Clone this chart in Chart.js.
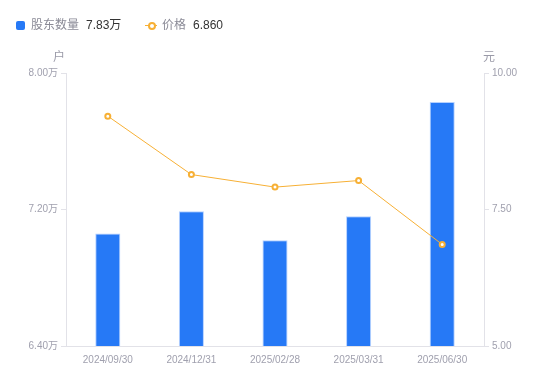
<!DOCTYPE html>
<html>
<head>
<meta charset="utf-8">
<script src="https://cdn.jsdelivr.net/npm/chart.js@4/dist/chart.umd.min.js"></script>
<style>
  html,body{margin:0;padding:0;background:#fff;}
  body{width:550px;height:381px;position:relative;overflow:hidden;font-family:"Liberation Sans","Noto Sans CJK SC",sans-serif;}
  #wrap{position:absolute;left:0;top:0;width:550px;height:381px;}
  .leg{position:absolute;top:17px;font-size:12px;line-height:16px;white-space:nowrap;}
  .leg .name{color:#8a8a96;}
  .leg .val{color:#333;margin-left:7px;}
  .unit{position:absolute;font-size:12px;color:#9a9aa8;line-height:14px;}
</style>
</head>
<body>
<div id="wrap"><canvas id="c" width="550" height="381"></canvas></div>
<div class="leg" style="left:16px;">
  <span style="display:inline-block;width:9px;height:9px;background:#2679F6;border-radius:2px;vertical-align:-1px;margin-right:6px;"></span><span class="name" id="n1"></span><span class="val" id="v1"></span>
</div>
<div class="leg" style="left:145px;">
  <span style="display:inline-block;position:relative;width:12px;height:9px;vertical-align:-1px;margin-right:5px;">
    <span style="position:absolute;left:0;top:4px;width:12px;height:1px;background:#F7B035;"></span>
    <span style="position:absolute;left:2.5px;top:1px;width:4px;height:4px;border:2px solid #F7B035;border-radius:50%;background:#fff;"></span>
  </span><span class="name" id="n2"></span><span class="val" id="v2"></span>
</div>
<div class="unit" id="u1" style="left:53px;top:50px;"></div>
<div class="unit" id="u2" style="left:483px;top:50px;"></div>
<script>
const categories = ['2024/09/30','2024/12/31','2025/02/28','2025/03/31','2025/06/30'];
const holders = [7.06, 7.19, 7.02, 7.16, 7.83];   // 万户
const prices = [9.21, 8.14, 7.91, 8.03, 6.86];    // 元
const holderTicks = [6.40, 7.20, 8.00];
const priceTicks = [5.00, 7.50, 10.00];
const seriesNames = ['股东数量','价格'];
const legendValues = ['7.83万','6.860'];
const unitNames = ['户','元'];

document.getElementById('n1').textContent = seriesNames[0];
document.getElementById('n2').textContent = seriesNames[1];
document.getElementById('v1').textContent = legendValues[0];
document.getElementById('v2').textContent = legendValues[1];
document.getElementById('u1').textContent = unitNames[0];
document.getElementById('u2').textContent = unitNames[1];

const tickFont = {family:'"Liberation Sans","Noto Sans CJK SC",sans-serif', size:10};
const tickColor = '#a0a0ae';
const axisColor = '#e2e2e8';

new Chart(document.getElementById('c'), {
  data: {
    labels: categories,
    datasets: [
      {
        type:'line', label:seriesNames[1], data:prices, yAxisID:'y1',
        borderColor:'#F7B035', borderWidth:1, backgroundColor:'#fff',
        pointRadius:2.5, pointBorderWidth:2, pointBackgroundColor:'#fff', pointBorderColor:'#F7B035',
        tension:0, order:0
      },
      {
        type:'bar', label:seriesNames[0], data:holders, yAxisID:'y',
        backgroundColor:'#2679F6', borderColor:'rgba(150,190,255,0.7)', borderWidth:1,
        categoryPercentage:1, barPercentage:0.3, order:1
      }
    ]
  },
  options: {
    responsive:false, animation:false,
    layout:{padding:{top:73, left:0, right:0, bottom:0}},
    plugins:{legend:{display:false}, tooltip:{enabled:false}},
    scales:{
      x:{
        offset:true,
        grid:{display:false, drawOnChartArea:false},
        border:{display:true, color:axisColor},
        ticks:{font:tickFont, color:tickColor, padding:0, maxRotation:0},
        afterFit(s){ s.height = 35; }
      },
      y:{
        position:'left', min:holderTicks[0], max:holderTicks[holderTicks.length-1],
        afterBuildTicks(s){ s.ticks = holderTicks.map(v=>({value:v})); },
        grid:{drawOnChartArea:false, drawTicks:true, tickLength:5, color:axisColor},
        border:{display:true, color:axisColor},
        ticks:{font:tickFont, color:tickColor, padding:3, callback:v=>v.toFixed(2)+'万'},
        afterFit(s){ s.width = 66; }
      },
      y1:{
        position:'right', min:priceTicks[0], max:priceTicks[priceTicks.length-1],
        afterBuildTicks(s){ s.ticks = priceTicks.map(v=>({value:v})); },
        grid:{drawOnChartArea:false, drawTicks:true, tickLength:5, color:axisColor},
        border:{display:true, color:axisColor},
        ticks:{font:tickFont, color:tickColor, padding:3, callback:v=>v.toFixed(2)},
        afterFit(s){ s.width = 66; }
      }
    }
  }
});
</script>
</body>
</html>
